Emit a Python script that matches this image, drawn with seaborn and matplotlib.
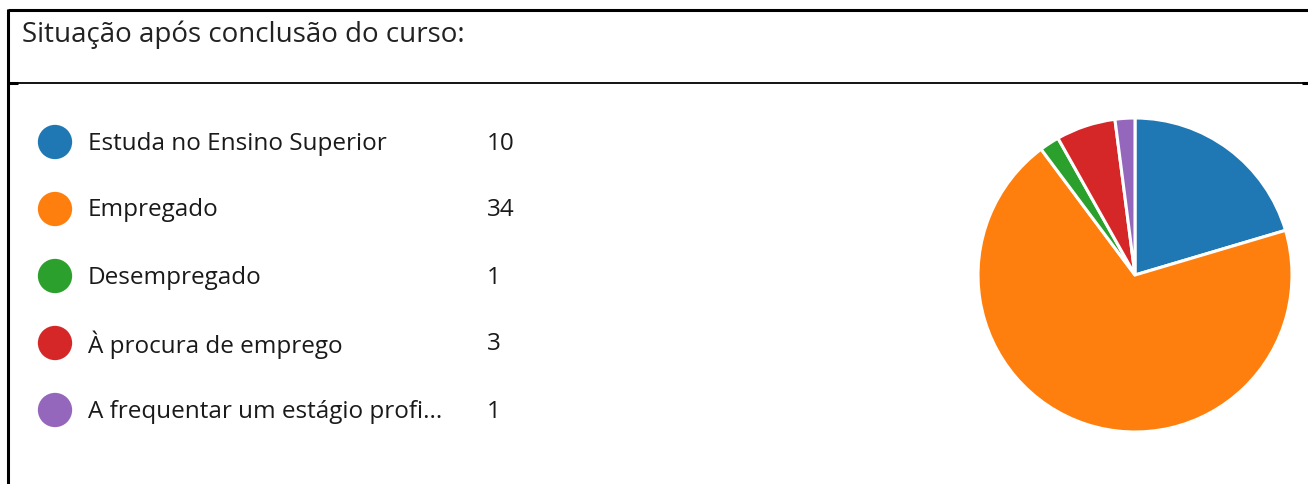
import matplotlib
matplotlib.use("Agg")
import matplotlib.pyplot as plt
import seaborn as sns
import pandas as pd

title = "Situação após conclusão do curso:"
categories = [
    "Estuda no Ensino Superior",
    "Empregado",
    "Desempregado",
    "À procura de emprego",
    "A frequentar um estágio profi...",
]
counts = [10, 34, 1, 3, 1]

sns.set_theme(style="white")
plt.rcParams["font.family"] = ["Open Sans", "DejaVu Sans"]

W, H = 1308, 484
fig = plt.figure(figsize=(W / 100, H / 100), dpi=100)
fig.patch.set_facecolor("white")

colors = sns.color_palette("tab10", len(categories))

# overlay axes in pixel coordinates
ax = fig.add_axes([0, 0, 1, 1])

df = pd.DataFrame({"cat": categories, "count": counts})
df["row"] = range(len(df))
df["y"] = 142 + 67 * df["row"]
df["x"] = 55
sns.scatterplot(data=df, x="x", y="y", hue="cat", palette=colors, s=610,
                edgecolor="none", legend=False, ax=ax)
ax.set_xlim(0, W)
ax.set_ylim(H, 0)
ax.axis("off")

# frame lines
ax.plot([8, W], [9.5, 9.5], color="black", lw=2.2, solid_capstyle="butt")
ax.plot([8, 8], [9, H], color="black", lw=2.2, solid_capstyle="butt")
ax.plot([8, W], [82.5, 82.5], color="black", lw=1.3, solid_capstyle="butt")
ax.plot([8, 18], [83, 83], color="black", lw=2.2, solid_capstyle="butt")
ax.plot([1302, W], [83, 83], color="black", lw=2.2, solid_capstyle="butt")

ax.text(22, 35, title, fontsize=20, color="#222222", va="center", ha="left")

for _, r in df.iterrows():
    ax.text(88, r["y"] + 1.5, r["cat"], fontsize=17.5, color="#1a1a1a", va="center", ha="left")
    ax.text(487, r["y"] + 1.5, str(r["count"]), fontsize=17.5, color="#1a1a1a", va="center", ha="left")

# pie
cx, cy, R = 1135, 275, 157
axp = fig.add_axes([(cx - R) / W, (H - cy - R) / H, 2 * R / W, 2 * R / H])
axp.pie(counts, colors=colors, startangle=90, counterclock=False,
        wedgeprops=dict(edgecolor="white", linewidth=2.2))
axp.set_xlim(-1, 1)
axp.set_ylim(-1, 1)
axp.axis("off")

fig.savefig("out.png", dpi=100, facecolor="white")
